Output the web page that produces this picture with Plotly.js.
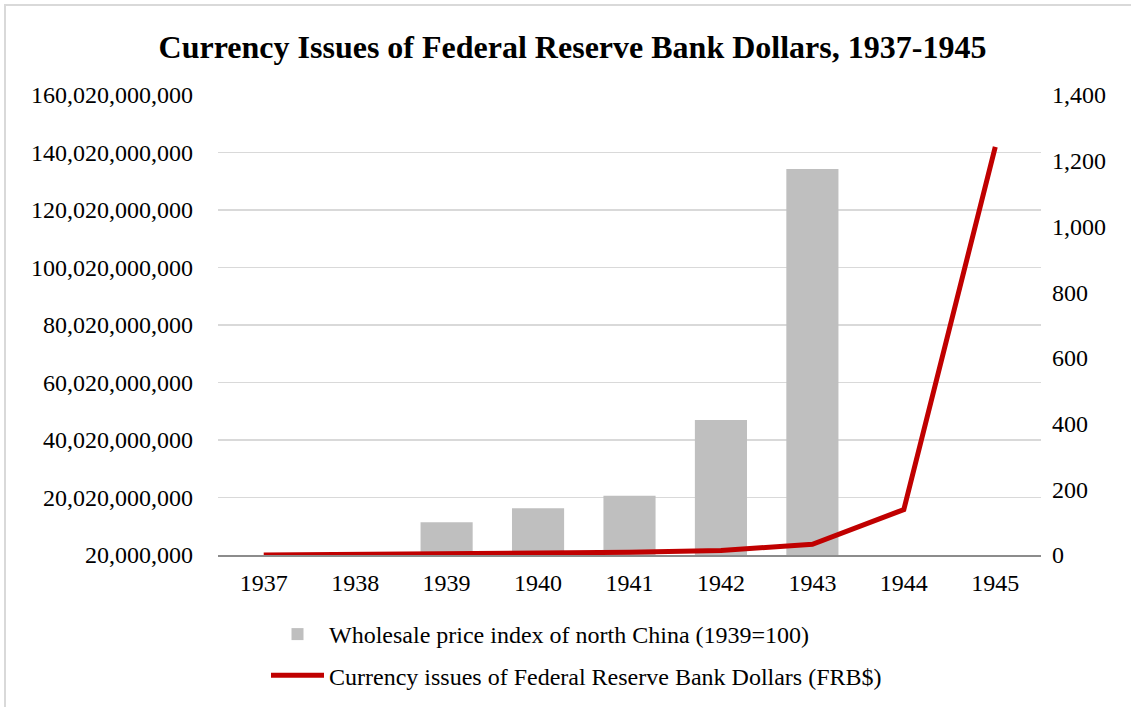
<!DOCTYPE html>
<html>
<head>
<meta charset="utf-8">
<script src="https://cdn.plot.ly/plotly-3.0.1.min.js"></script>
<style>
  html, body { margin: 0; padding: 0; background: #fff; overflow: hidden; }
  #chart { width: 1131px; height: 707px; position: absolute; left: 0; top: 0; }
  #frame { position: absolute; left: 4px; top: 4px; width: 2000px; height: 2000px;
           border-left: 2px solid #d9d9d9; border-top: 2px solid #d9d9d9; pointer-events: none; }
</style>
</head>
<body>
<div id="chart"></div>
<div id="frame"></div>
<script>
// Data
const years = ['1937', '1938', '1939', '1940', '1941', '1942', '1943', '1944', '1945'];
// Wholesale price index of north China (1939=100), right axis
const priceIndex = [null, null, 100, 142, 180, 411, 1175, null, null];
// Currency issues of Federal Reserve Bank Dollars (FRB$), left axis
const currencyIssues = [20000000, 162000000, 458000000, 715000000, 964000000, 1581000000, 3762000000, 15841000000, 142000000000];

const leftTicks = [20000000, 20020000000, 40020000000, 60020000000, 80020000000,
                   100020000000, 120020000000, 140020000000, 160020000000];

const seriesNames = ['Wholesale price index of north China (1939=100)',
                     'Currency issues of Federal Reserve Bank Dollars (FRB$)'];

const FONT = 'Liberation Serif, Times New Roman, serif';

const traces = [
  {
    type: 'bar',
    name: seriesNames[0],
    x: years,
    y: priceIndex,
    yaxis: 'y',
    marker: { color: '#bfbfbf' },
    legendgroup: 'a',
    hoverinfo: 'x+y'
  },
  {
    type: 'scatter',
    mode: 'lines',
    name: seriesNames[1],
    x: years,
    y: currencyIssues,
    yaxis: 'y2',
    line: { color: '#c00000', width: 5 },
    legendgroup: 'b',
    hoverinfo: 'x+y'
  }
];

const layout = {
  width: 1131,
  height: 707,
  margin: { l: 218, r: 90, t: 95, b: 152, autoexpand: false },
  paper_bgcolor: '#ffffff',
  plot_bgcolor: 'rgba(0,0,0,0)',
  font: { family: FONT, size: 24, color: '#000000' },
  title: {
    text: '<b>Currency Issues of Federal Reserve Bank Dollars, 1937-1945</b>',
    font: { family: FONT, size: 32, color: '#000000' },
    x: 0.5 + 7 / 1131, xanchor: 'center', xref: 'container',
    y: 1 - 47 / 707, yanchor: 'middle', yref: 'container'
  },
  bargap: 0.43,
  xaxis: {
    type: 'category',
    automargin: false,
    showgrid: false,
    showline: true,
    linecolor: '#8c8c8c',
    linewidth: 1.5,
    ticks: '',
    tickangle: 0,
    ticklabelstandoff: 6,
    tickfont: { family: FONT, size: 24, color: '#000000' },
    fixedrange: true
  },
  yaxis: {
    side: 'right',
    automargin: false,
    range: [0, 1400],
    dtick: 200,
    tick0: 0,
    tickformat: ',',
    showgrid: false,
    zeroline: false,
    showline: false,
    ticks: '',
    ticklabelstandoff: 10,
    tickfont: { family: FONT, size: 24, color: '#000000' },
    fixedrange: true
  },
  yaxis2: {
    overlaying: 'y',
    side: 'left',
    automargin: false,
    range: [leftTicks[0], leftTicks[leftTicks.length - 1]],
    tickmode: 'array',
    tickvals: leftTicks,
    tickformat: ',',
    showgrid: true,
    gridcolor: '#d9d9d9',
    gridwidth: 1.5,
    zeroline: false,
    showline: false,
    ticks: '',
    ticklabelstandoff: 24,
    tickfont: { family: FONT, size: 24, color: '#000000' },
    fixedrange: true
  },
  showlegend: true,
  legend: {
    orientation: 'v',
    traceorder: 'grouped',
    tracegroupgap: 7,
    itemwidth: 53,
    xref: 'container', yref: 'container',
    x: 266 / 1131, xanchor: 'left',
    y: 1 - 612 / 707, yanchor: 'top',
    bgcolor: 'rgba(0,0,0,0)',
    font: { family: FONT, size: 24, color: '#000000' }
  }
};

Plotly.newPlot('chart', traces, layout, { displayModeBar: false, staticPlot: true });
</script>
</body>
</html>
